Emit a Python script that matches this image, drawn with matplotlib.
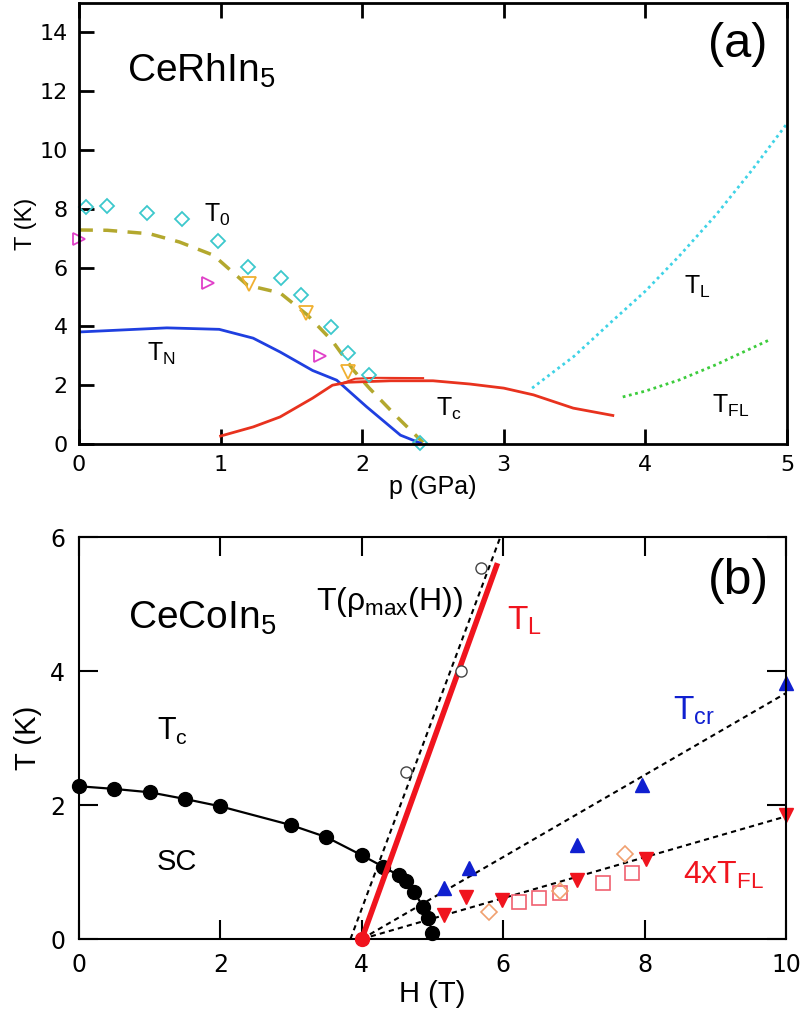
import numpy as np
import matplotlib
matplotlib.use("Agg")
import matplotlib.pyplot as plt

plt.rcParams['font.family'] = ['Liberation Sans', 'DejaVu Sans']
plt.rcParams['mathtext.fontset'] = 'custom'
plt.rcParams['mathtext.rm'] = 'Liberation Sans'
plt.rcParams['mathtext.it'] = 'Liberation Sans'
plt.rcParams['mathtext.bf'] = 'Liberation Sans'

# ---------------- panel (a): CeRhIn5 ----------------
t0_diam_p = [0.05, 0.2, 0.48, 0.73, 0.98, 1.19, 1.43, 1.57, 1.78, 1.9, 2.05, 2.41]
t0_diam_T = [8.06, 8.1, 7.86, 7.65, 6.9, 6.03, 5.65, 5.07, 3.98, 3.1, 2.35, 0.05]
tri_r_p = [0.0, 0.91, 1.70]
tri_r_T = [6.97, 5.48, 3.0]
tri_d_p = [1.2, 1.6, 1.9]
tri_d_T = [5.44, 4.45, 2.45]
t0_line_p = [0.0, 0.2, 0.5, 0.71, 0.95, 1.19, 1.42, 1.61, 1.79, 1.94, 2.05, 2.25, 2.43]
t0_line_T = [7.28, 7.27, 7.15, 6.87, 6.42, 5.4, 5.14, 4.4, 3.5, 2.5, 1.9, 0.9, 0.05]
tn_p = [0.0, 0.62, 0.99, 1.23, 1.42, 1.65, 1.82, 2.03, 2.27, 2.41]
tn_T = [3.81, 3.95, 3.9, 3.6, 3.13, 2.5, 2.17, 1.27, 0.3, 0.03]
tc_p = [1.0, 1.23, 1.42, 1.65, 1.79, 1.9, 2.2, 2.5, 2.76, 3.0, 3.21, 3.49, 3.77]
tc_T = [0.27, 0.58, 0.92, 1.56, 2.0, 2.1, 2.15, 2.15, 2.04, 1.9, 1.67, 1.22, 0.97]
tc2_p = [1.85, 1.95, 2.1, 2.43]
tc2_T = [2.05, 2.22, 2.25, 2.24]
tl_p = [3.2, 3.5, 3.77, 4.0, 4.24, 4.5, 4.75, 5.0]
tl_T = [1.9, 3.0, 4.2, 5.2, 6.4, 7.8, 9.3, 10.9]
tfl_p = [3.84, 4.0, 4.24, 4.5, 4.88]
tfl_T = [1.6, 1.8, 2.18, 2.7, 3.55]

# ---------------- panel (b): CeCoIn5 ----------------
hc_H = [0, 0.5, 1, 1.5, 2, 3, 3.5, 4, 4.3, 4.52, 4.62, 4.74, 4.87, 4.94, 5.0]
hc_T = [2.28, 2.24, 2.19, 2.09, 1.98, 1.70, 1.52, 1.25, 1.08, 0.95, 0.86, 0.70, 0.48, 0.31, 0.09]
rho_H = [4.62, 5.4, 5.68]
rho_T = [2.49, 4.0, 5.54]
rho_fit_H = [3.84, 5.96]
rho_fit_T = [0.0, 6.0]
tlb_H = [4.0, 5.92]
tlb_T = [0.0, 5.61]
tcr_H = [5.17, 5.51, 7.04, 7.97, 10.0]
tcr_T = [0.76, 1.06, 1.40, 2.30, 3.82]
tcr_fit_H = [4.0, 10.0]
tcr_fit_T = [0.0, 3.67]
tfl4_H = [5.16, 5.48, 5.99, 7.04, 8.02, 10.0]
tfl4_T = [0.36, 0.63, 0.58, 0.88, 1.19, 1.85]
tfl4_fit_H = [4.0, 10.0]
tfl4_fit_T = [0.0, 1.83]
sq_H = [6.22, 6.51, 6.8, 7.41, 7.82]
sq_T = [0.55, 0.61, 0.69, 0.83, 0.98]
dm_H = [5.80, 6.8, 7.73]
dm_T = [0.40, 0.72, 1.27]

fig = plt.figure(figsize=(8.02, 10.19), dpi=100)

# panel (a)
ax1 = fig.add_axes([0.0985, 0.5643, 0.8828, 0.4327])
ax1.plot(t0_line_p, t0_line_T, '--', color='#b3a82e', lw=2.5, dashes=(4, 3))
ax1.plot(tn_p, tn_T, '-', color='#1f3fe0', lw=2)
ax1.plot(tc_p, tc_T, '-', color='#e8321e', lw=2)
ax1.plot(tc2_p, tc2_T, '-', color='#e8321e', lw=1.5)
ax1.plot(tl_p, tl_T, color='#3fd3e6', lw=2, dashes=(1, 1.3))
ax1.plot(tfl_p, tfl_T, color='#3ccc3c', lw=2, dashes=(1, 1.3))
ax1.plot(t0_diam_p, t0_diam_T, 'D', ms=7, mfc='none', mec='#3cc8cc', mew=1.3, clip_on=False)
ax1.plot(tri_r_p, tri_r_T, '>', ms=9, mfc='none', mec='#e040c8', mew=1.3, clip_on=False)
ax1.plot(tri_d_p, tri_d_T, 'v', ms=10, mfc='none', mec='#f0b030', mew=1.3, clip_on=False)

ax1.set_xlim(0, 5)
ax1.set_ylim(0, 15)
ax1.set_xticks([0, 1, 2, 3, 4, 5])
ax1.set_yticks([0, 2, 4, 6, 8, 10, 12, 14])
ax1.tick_params(direction='in', length=11, width=2, labelsize=16, top=True, pad=8)
for lab in ax1.get_xticklabels() + ax1.get_yticklabels():
    lab.set_family('DejaVu Sans')
for s in ax1.spines.values():
    s.set_linewidth(2)
ax1.set_xlabel('p (GPa)', fontsize=18, labelpad=0)
ax1.set_ylabel('T (K)', fontsize=17, labelpad=2)

ax1.text(0.34, 12.7, 'CeRhIn$_5$', fontsize=28, va='center')
ax1.text(4.86, 13.6, '(a)', fontsize=35, ha='right', va='center')
ax1.text(0.88, 7.8, 'T$_0$', fontsize=18, va='center')
ax1.text(0.48, 3.05, 'T$_\\mathrm{N}$', fontsize=18, va='center')
ax1.text(2.52, 1.2, 'T$_\\mathrm{c}$', fontsize=18, va='center')
ax1.text(4.27, 5.35, 'T$_\\mathrm{L}$', fontsize=18, va='center')
ax1.text(4.47, 1.3, 'T$_\\mathrm{FL}$', fontsize=18, va='center')

# panel (b)
ax2 = fig.add_axes([0.0985, 0.0785, 0.8815, 0.3945])
ax2.plot(rho_fit_H, rho_fit_T, color='k', lw=1.5, dashes=(2.5, 2))
ax2.plot(tcr_fit_H, tcr_fit_T, color='k', lw=1.5, dashes=(2.5, 2))
ax2.plot(tfl4_fit_H, tfl4_fit_T, color='k', lw=1.5, dashes=(2.5, 2))
ax2.plot(hc_H, hc_T, '-', color='k', lw=1.6)
ax2.plot(hc_H, hc_T, 'o', color='k', ms=10, clip_on=False)
ax2.plot(tlb_H, tlb_T, '-', color='#f0141e', lw=4, solid_capstyle='butt')
ax2.plot([4.0], [0.0], 'o', color='#f0141e', ms=10, clip_on=False, zorder=5)
ax2.plot(rho_H, rho_T, 'o', ms=8, mfc='white', mec='#444444', mew=1)
ax2.plot(sq_H, sq_T, 's', ms=10, mfc='none', mec='#f06070', mew=1.2)
ax2.plot(dm_H, dm_T, 'D', ms=8, mfc='none', mec='#f0a070', mew=1.2)
ax2.plot(tcr_H, tcr_T, '^', color='#1020d0', ms=10, clip_on=False)
ax2.plot(tfl4_H, tfl4_T, 'v', color='#f0141e', ms=10, clip_on=False)

ax2.set_xlim(0, 10)
ax2.set_ylim(0, 6)
ax2.set_xticks([0, 2, 4, 6, 8, 10])
ax2.set_yticks([0, 2, 4, 6])
ax2.tick_params(direction='in', length=14, width=1.5, labelsize=17, top=True, right=True, pad=10)
for lab in ax2.get_xticklabels() + ax2.get_yticklabels():
    lab.set_family('DejaVu Sans')
for s in ax2.spines.values():
    s.set_linewidth(1.5)
ax2.set_xlabel('H (T)', fontsize=21, labelpad=2)
ax2.set_ylabel('T (K)', fontsize=21, labelpad=6)

ax2.text(0.7, 4.78, 'CeCoIn$_5$', fontsize=28, va='center')
ax2.text(9.76, 5.35, '(b)', fontsize=36, ha='right', va='center')
ax2.text(1.1, 3.1, 'T$_\\mathrm{c}$', fontsize=22, va='center')
ax2.text(1.1, 1.15, 'SC', fontsize=21, va='center')
ax2.text(3.35, 5.03, 'T(\u03c1$_\\mathrm{max}$(H))', fontsize=23, va='center')
ax2.text(6.05, 4.75, 'T$_\\mathrm{L}$', fontsize=24, va='center', color='#f0141e')
ax2.text(8.4, 3.4, 'T$_\\mathrm{cr}$', fontsize=24, va='center', color='#1020d0')
ax2.text(8.55, 0.95, '4xT$_\\mathrm{FL}$', fontsize=23, va='center', color='#f0141e')

fig.savefig('out.png', dpi=100)
